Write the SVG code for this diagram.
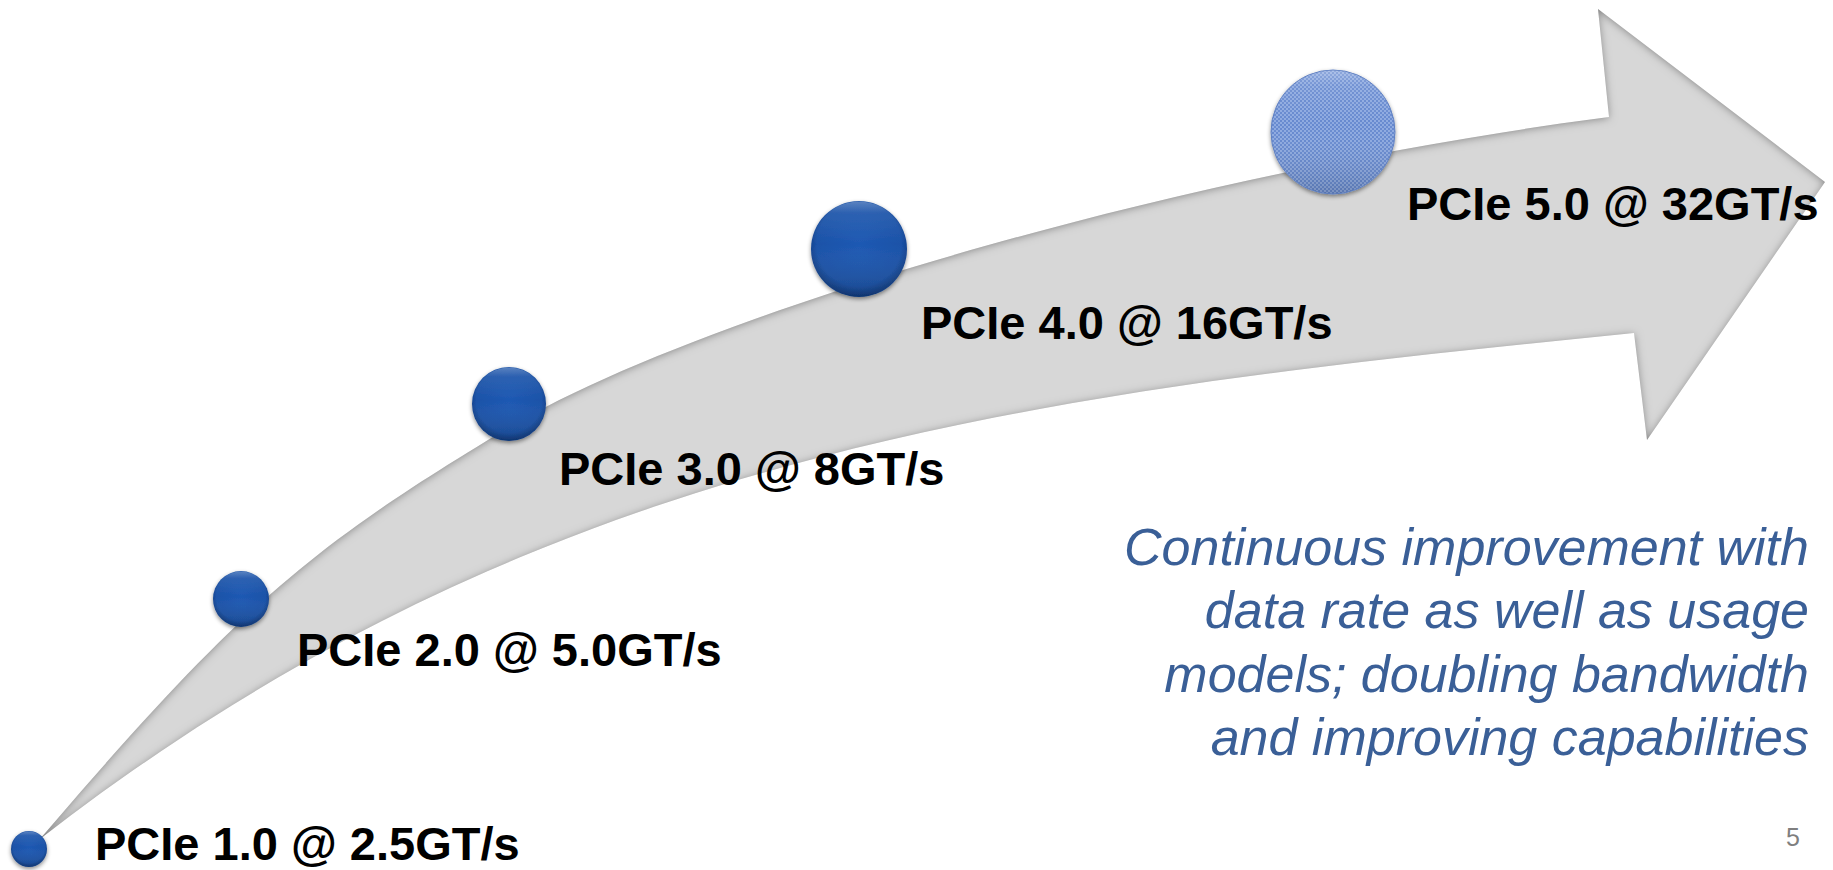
<svg xmlns="http://www.w3.org/2000/svg" width="1833" height="870" viewBox="0 0 1833 870">
  <style>
    .label { font-family: "Liberation Sans", Arial, sans-serif; font-weight: bold; font-size: 47px; fill: #000000; }
    .note { font-family: "Liberation Sans", Arial, sans-serif; font-style: italic; font-size: 52px; fill: #3a5f97; text-anchor: end; }
    .page { font-family: "Liberation Sans", Arial, sans-serif; font-size: 25px; fill: #7f7f7f; text-anchor: end; }
    .ball { filter: url(#ballShadow); }
  </style>
  <defs>
    <!-- soft darkening along the inside of the arrow outline -->
    <filter id="innerShade" x="-5%" y="-5%" width="110%" height="110%">
      <feComponentTransfer in="SourceAlpha" result="inv">
        <feFuncA type="table" tableValues="1 0"/>
      </feComponentTransfer>
      <feOffset in="inv" dx="0" dy="1" result="invOff"/>
      <feGaussianBlur in="invOff" stdDeviation="4" result="invBlur"/>
      <feComposite in="invBlur" in2="SourceAlpha" operator="in" result="edge"/>
      <feFlood flood-color="#000000" flood-opacity="0.7"/>
      <feComposite in2="edge" operator="in" result="shade"/>
      <feMerge>
        <feMergeNode in="SourceGraphic"/>
        <feMergeNode in="shade"/>
      </feMerge>
    </filter>
    <filter id="ballShadow" x="-30%" y="-30%" width="160%" height="170%">
      <feDropShadow dx="0" dy="2" stdDeviation="2" flood-color="#000000" flood-opacity="0.45"/>
    </filter>
    <radialGradient id="ballBody" cx="50%" cy="45%" r="55%">
      <stop offset="0%" stop-color="#1e59b3"/>
      <stop offset="80%" stop-color="#1a52a8"/>
      <stop offset="100%" stop-color="#113c80"/>
    </radialGradient>
    <linearGradient id="ballGloss" x1="0" y1="0" x2="0" y2="1">
      <stop offset="0%" stop-color="#ffffff" stop-opacity="0.28"/>
      <stop offset="12%" stop-color="#ffffff" stop-opacity="0.08"/>
      <stop offset="45%" stop-color="#ffffff" stop-opacity="0"/>
      <stop offset="100%" stop-color="#000000" stop-opacity="0.15"/>
    </linearGradient>
    <pattern id="dots" width="4" height="4" patternUnits="userSpaceOnUse">
      <rect width="4" height="4" fill="#8eaae0"/>
      <rect width="2" height="2" fill="#6689cf"/>
      <rect x="2" y="2" width="2" height="2" fill="#6a8cd0"/>
    </pattern>
  </defs>

  <!-- curved growth arrow -->
  <g id="connectors">
    <path id="growth-arrow" filter="url(#innerShade)" fill="#d7d7d7"
          d="M 40 839 C 238 608, 308 548, 508 428 C 688 320, 1159 175.5, 1609 117 L 1598 9 L 1825 182 L 1647 440 L 1634 333 C 1034 393, 540 450, 40 839 Z"/>
  </g>

  <!-- generation markers -->
  <g id="gen1">
    <g class="ball">
      <circle cx="29" cy="849" r="18" fill="url(#ballBody)"/>
      <circle cx="29" cy="849" r="17.5" fill="url(#ballGloss)"/>
    </g>
    <text class="label" x="95" y="860">PCIe 1.0 @ 2.5GT/s</text>
  </g>
  <g id="gen2">
    <g class="ball">
      <circle cx="241" cy="599" r="28" fill="url(#ballBody)"/>
      <circle cx="241" cy="599" r="27.5" fill="url(#ballGloss)"/>
    </g>
    <text class="label" x="297" y="666">PCIe 2.0 @ 5.0GT/s</text>
  </g>
  <g id="gen3">
    <g class="ball">
      <circle cx="509" cy="404" r="37" fill="url(#ballBody)"/>
      <circle cx="509" cy="404" r="36.5" fill="url(#ballGloss)"/>
    </g>
    <text class="label" x="559" y="485">PCIe 3.0 @ 8GT/s</text>
  </g>
  <g id="gen4">
    <g class="ball">
      <circle cx="859" cy="249" r="48" fill="url(#ballBody)"/>
      <circle cx="859" cy="249" r="47.5" fill="url(#ballGloss)"/>
    </g>
    <text class="label" x="921" y="339">PCIe 4.0 @ 16GT/s</text>
  </g>
  <g id="gen5">
    <g class="ball">
      <circle cx="1333" cy="132" r="62" fill="url(#dots)" stroke="#5f80c2" stroke-width="1"/>
      <circle cx="1333" cy="132" r="61.5" fill="url(#ballGloss)"/>
    </g>
    <text class="label" x="1407" y="220">PCIe 5.0 @ 32GT/s</text>
  </g>

  <!-- summary note -->
  <g id="summary">
    <text class="note" x="1809" y="565">Continuous improvement with</text>
    <text class="note" x="1809" y="628">data rate as well as usage</text>
    <text class="note" x="1809" y="692">models; doubling bandwidth</text>
    <text class="note" x="1809" y="755">and improving capabilities</text>
  </g>

  <text id="page-number" class="page" x="1800" y="846">5</text>
</svg>
